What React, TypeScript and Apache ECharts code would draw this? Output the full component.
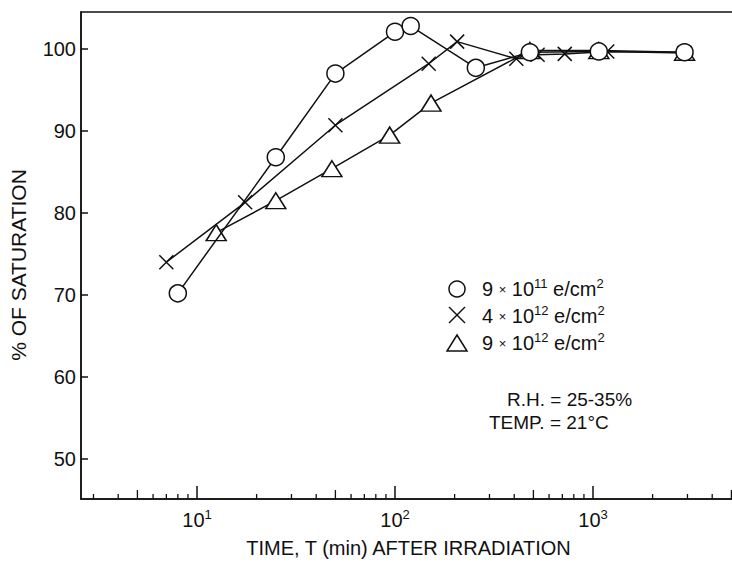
import React, { useEffect, useRef } from "react";
import * as echarts from "echarts";

// 9 x 10^11 e/cm^2  (circles)
const circleTime = [8, 25, 50, 100, 120, 256, 480, 1070, 2900];
const circleSat = [70.2, 86.8, 97.0, 102.1, 102.8, 97.7, 99.6, 99.7, 99.6];
// 4 x 10^12 e/cm^2  (crosses)
const crossTime = [7, 17.5, 50, 148, 206, 410, 525, 720, 1180, 2900];
const crossSat = [74.0, 81.3, 90.7, 98.2, 100.9, 98.8, 99.3, 99.4, 99.7, 99.5];
// 9 x 10^12 e/cm^2  (triangles)
const triTime = [12.5, 25, 48, 94, 152, 480, 1070, 2900];
const triSat = [77.6, 81.5, 85.4, 89.5, 93.4, 99.8, 99.8, 99.6];

const minorTickValues = [
  3, 4, 5, 6, 7, 8, 9, 20, 30, 40, 50, 60, 70, 80, 90, 200, 300, 400, 500, 600,
  700, 800, 900, 2000, 3000, 4000, 5000,
];

const X_MIN = 2.5948;
const X_MAX = 5275;
const Y_MIN = 45.12;
const Y_MAX = 104.51;

const FONT = "'Liberation Sans', Arial, Helvetica, sans-serif";
const INK = "#111111";

const pair = (xs: number[], ys: number[]) => xs.map((x, i) => [x, ys[i]]);

export default function App() {
  const ref = useRef<HTMLDivElement>(null);
  useEffect(() => {
    if (!ref.current) return;
    const chart = echarts.init(ref.current, undefined, { renderer: "svg" });
    const lineStyle = { color: INK, width: 1.5 };
    const markerStyle = { color: "#ffffff", borderColor: INK, borderWidth: 1.5 };
    const legendRich = {
      n: { fontSize: 20, fontFamily: FONT, fill: INK, lineHeight: 24 },
      x: { fontSize: 13, fontFamily: FONT, fill: INK, lineHeight: 24 },
      s: { fontSize: 13, fontFamily: FONT, fill: INK, lineHeight: 13, verticalAlign: "top" },
    };
    const option: any = {
      animation: false,
      backgroundColor: "#ffffff",
      grid: {
        left: 81,
        top: 12,
        width: 655,
        height: 487,
        outerBoundsMode: "none",
        containLabel: false,
        show: true,
        borderColor: INK,
        borderWidth: 1.5,
      },
      xAxis: {
        type: "log",
        logBase: 10,
        min: X_MIN,
        max: X_MAX,
        name: "TIME, T (min) AFTER IRRADIATION",
        nameLocation: "middle",
        nameGap: 39,
        nameTextStyle: { fontSize: 20, fontFamily: FONT, color: INK },
        axisLine: { lineStyle: { color: INK, width: 1.5 } },
        axisTick: { inside: true, length: 13, lineStyle: { color: INK, width: 1.5 } },
        splitLine: { show: false },
        axisLabel: {
          showMinLabel: false,
          showMaxLabel: false,
          margin: 9,
          formatter: (v: number) => `{b|10}{s|${Math.round(Math.log10(v))}}`,
          rich: {
            b: { fontSize: 20, fontFamily: FONT, color: INK, lineHeight: 24 },
            s: { fontSize: 13, fontFamily: FONT, color: INK, lineHeight: 13, verticalAlign: "top" },
          },
        },
      },
      yAxis: {
        type: "value",
        min: Y_MIN,
        max: Y_MAX,
        splitNumber: 5,
        axisLine: { show: true, lineStyle: { color: INK, width: 1.5 } },
        axisTick: { show: true, inside: true, length: 7, lineStyle: { color: INK, width: 1.5 } },
        splitLine: { show: false },
        axisLabel: {
          showMinLabel: false,
          showMaxLabel: false,
          margin: 5,
          fontSize: 20,
          fontFamily: FONT,
          color: INK,
        },
      },
      series: [
        {
          type: "custom",
          silent: true,
          clip: false,
          data: minorTickValues.map((v) => [v, Y_MIN]),
          encode: { x: 0, y: 1 },
          renderItem: (params: any, api: any) => {
            const v = api.value(0);
            const p = api.coord([v, Y_MIN]);
            const lead = Math.round(v / Math.pow(10, Math.floor(Math.log10(v) + 1e-9)));
            const len = lead === 5 ? 9 : 5;
            return {
              type: "line",
              shape: { x1: p[0], y1: p[1], x2: p[0], y2: p[1] - len },
              style: { stroke: INK, lineWidth: 1.3 },
            };
          },
          z: 1,
        },
        {
          name: "4 x 10^12",
          type: "line",
          data: pair(crossTime, crossSat),
          symbol: "path://M0,0L10,10M10,0L0,10",
          symbolSize: 14,
          lineStyle,
          itemStyle: { color: INK, borderColor: INK, borderWidth: 1.5 },
          z: 3,
        },
        {
          name: "9 x 10^12",
          type: "line",
          data: pair(triTime, triSat),
          symbol: "triangle",
          symbolSize: [20, 16],
          lineStyle,
          itemStyle: markerStyle,
          z: 4,
        },
        {
          name: "9 x 10^11",
          type: "line",
          data: pair(circleTime, circleSat),
          symbol: "circle",
          symbolSize: 17,
          lineStyle,
          itemStyle: markerStyle,
          z: 5,
        },
      ],
      graphic: [
        {
          type: "text",
          x: 18,
          y: 265,
          rotation: Math.PI / 2,
          style: {
            text: "% OF SATURATION",
            fontSize: 21,
            fontFamily: FONT,
            fill: INK,
            align: "center",
            verticalAlign: "middle",
          },
        },
        {
          type: "circle",
          shape: { cx: 457, cy: 289, r: 8 },
          style: { fill: "#fff", stroke: INK, lineWidth: 1.5 },
        },
        {
          type: "line",
          shape: { x1: 449, y1: 307, x2: 465, y2: 323 },
          style: { stroke: INK, lineWidth: 1.5 },
        },
        {
          type: "line",
          shape: { x1: 465, y1: 307, x2: 449, y2: 323 },
          style: { stroke: INK, lineWidth: 1.5 },
        },
        {
          type: "polygon",
          shape: { points: [[457, 335], [467, 351], [447, 351]] },
          style: { fill: "#fff", stroke: INK, lineWidth: 1.5 },
        },
        {
          type: "text",
          x: 482,
          y: 289,
          style: {
            text: "{n|9 }{x|×}{n| 10}{s|11}{n| e/cm}{s|2}",
            rich: legendRich,
            verticalAlign: "middle",
          },
        },
        {
          type: "text",
          x: 482,
          y: 316,
          style: {
            text: "{n|4 }{x|×}{n| 10}{s|12}{n| e/cm}{s|2}",
            rich: legendRich,
            verticalAlign: "middle",
          },
        },
        {
          type: "text",
          x: 482,
          y: 343,
          style: {
            text: "{n|9 }{x|×}{n| 10}{s|12}{n| e/cm}{s|2}",
            rich: legendRich,
            verticalAlign: "middle",
          },
        },
        {
          type: "text",
          x: 507,
          y: 399,
          style: {
            text: "R.H. = 25-35%",
            fontSize: 19,
            fontFamily: FONT,
            fill: INK,
            verticalAlign: "middle",
          },
        },
        {
          type: "text",
          x: 489,
          y: 422,
          style: {
            text: "TEMP. = 21°C",
            fontSize: 19,
            fontFamily: FONT,
            fill: INK,
            verticalAlign: "middle",
          },
        },
      ],
    };
    chart.setOption(option);
    return () => chart.dispose();
  }, []);
  return (
    <div
      ref={ref}
      style={{ position: "fixed", left: 0, top: 0, width: 732, height: 564, background: "#fff" }}
    />
  );
}
